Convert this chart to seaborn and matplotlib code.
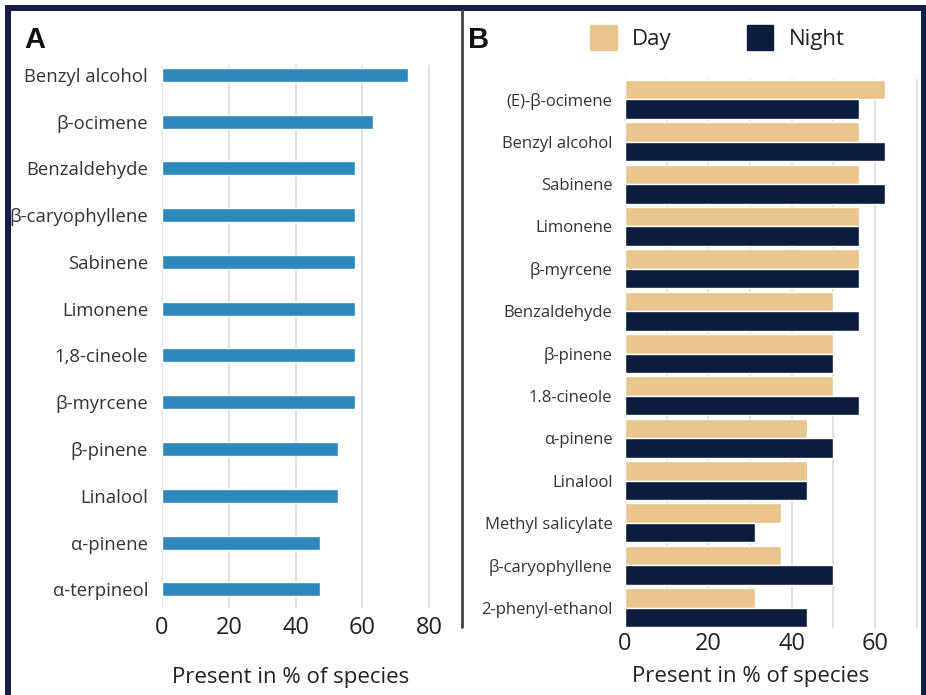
import matplotlib
matplotlib.use("Agg")
import matplotlib.pyplot as plt
import matplotlib.patches as mpatches
import seaborn as sns
import pandas as pd

# Panel A: compounds present across species
compounds_a = ["Benzyl alcohol", "β-ocimene", "Benzaldehyde", "β-caryophyllene",
               "Sabinene", "Limonene", "1,8-cineole", "β-myrcene", "β-pinene",
               "Linalool", "α-pinene", "α-terpineol"]
pct_a = [73.7, 63.2, 57.9, 57.9, 57.9, 57.9, 57.9, 57.9, 52.6, 52.6, 47.4, 47.4]

# Panel B: day vs night emissions
compounds_b = ["(E)-β-ocimene", "Benzyl alcohol", "Sabinene", "Limonene", "β-myrcene",
               "Benzaldehyde", "β-pinene", "1.8-cineole", "α-pinene", "Linalool",
               "Methyl salicylate", "β-caryophyllene", "2-phenyl-ethanol"]
pct_day = [62.5, 56.25, 56.25, 56.25, 56.25, 50.0, 50.0, 50.0, 43.75, 43.75, 37.5, 37.5, 31.25]
pct_night = [56.25, 62.5, 62.5, 56.25, 56.25, 56.25, 50.0, 56.25, 50.0, 43.75, 31.25, 50.0, 43.75]
periods = ["Day", "Night"]

xticks_a = [0, 20, 40, 60, 80]
xticks_b = [0, 20, 40, 60]
xlabel = "Present in % of species"

BLUE = "#2E88BB"
DAY = "#E8C68D"
NIGHT = "#0B1C3E"
FRAME = "#111C48"
TXT = "#333333"
GRID = "#DEDEDE"

sns.set_theme(style="white")
plt.rcParams["font.family"] = ["Open Sans", "DejaVu Sans"]

W, H = 926, 695
fig = plt.figure(figsize=(W / 100, H / 100), dpi=100)


def box(x0, y0, x1, y1):
    return [x0 / W, 1 - y1 / H, (x1 - x0) / W, (y1 - y0) / H]


# ---- Panel A ----
df_a = pd.DataFrame({"compound": compounds_a, "pct": pct_a})
axA = fig.add_axes(box(162, 65, 446, 608))
sns.barplot(data=df_a, y="compound", x="pct", color=BLUE, width=0.3,
            saturation=1, ax=axA, zorder=3)
axA.set_xlim(0, 85)
axA.set_ylim(len(compounds_a) - 1 + 0.4, -0.21)
axA.set_xticks(xticks_a)
axA.xaxis.grid(True, color=GRID, linewidth=1.3, zorder=0)
axA.set_axisbelow(True)
for s in axA.spines.values():
    s.set_visible(False)
axA.tick_params(axis="y", length=0, pad=10, labelsize=13.3, labelcolor=TXT)
axA.tick_params(axis="x", length=0, pad=6, labelsize=17, labelcolor="#222222")
axA.set_ylabel("")
axA.set_xlabel(xlabel, fontsize=16, color="#222222")
axA.xaxis.set_label_coords(0.454, -59 / 543)

# ---- Panel B ----
df_b = pd.DataFrame({
    "compound": compounds_b * 2,
    "pct": pct_day + pct_night,
    "period": [periods[0]] * len(compounds_b) + [periods[1]] * len(compounds_b),
})
axB = fig.add_axes(box(625, 79, 918, 628))
sns.barplot(data=df_b, y="compound", x="pct", hue="period", hue_order=periods,
            palette=[DAY, NIGHT], width=0.92, saturation=1, ax=axB,
            legend=False, zorder=3)
axB.set_xlim(0, 70.3)
axB.set_ylim(len(compounds_b) - 1 + 0.48, -0.48)
axB.set_xticks(list(range(0, 71, 10)))
axB.set_xticklabels([str(t) if t in xticks_b else "" for t in range(0, 71, 10)])
axB.xaxis.grid(True, color=GRID, linewidth=1.3, zorder=0)
axB.set_axisbelow(True)
for s in axB.spines.values():
    s.set_visible(False)
axB.tick_params(axis="y", length=0, pad=9, labelsize=12, labelcolor=TXT)
axB.tick_params(axis="x", length=0, pad=3, labelsize=17, labelcolor="#222222")
axB.set_ylabel("")
axB.set_xlabel(xlabel, fontsize=16, color="#222222")
axB.xaxis.set_label_coords(0.43, -38 / 549)

# Legend for panel B
handles = [mpatches.Patch(color=DAY, label=periods[0]),
           mpatches.Patch(color=NIGHT, label=periods[1])]
fig.legend(handles=handles, loc="upper left", bbox_to_anchor=(590 / W, 1 - 25 / H),
           ncol=2, frameon=False, fontsize=16, handlelength=1.2, handleheight=1.35,
           columnspacing=3.37, handletextpad=0.7, borderpad=0, borderaxespad=0,
           labelcolor="#222222")

# Panel letters
fig.text(24 / W, 1 - 40 / H, "A", fontsize=21, fontweight="bold", va="center",
         ha="left", color="#111111", family=["Liberation Sans", "DejaVu Sans"])
fig.text(468 / W, 1 - 40 / H, "B", fontsize=21, fontweight="bold", va="center",
         ha="left", color="#111111", family=["Liberation Sans", "DejaVu Sans"])

# Divider between panels and outer frame
fig.add_artist(plt.Line2D([462 / W, 462 / W], [1 - 627 / H, 1 - 10 / H],
                          color="#444444", linewidth=2, transform=fig.transFigure))
fig.add_artist(mpatches.Rectangle((8 / W, -0.02), (923.5 - 8) / W, 1 - 8 / H + 0.02,
                                  fill=False, edgecolor=FRAME, linewidth=4.3,
                                  transform=fig.transFigure))

fig.savefig("out.png", dpi=100)
